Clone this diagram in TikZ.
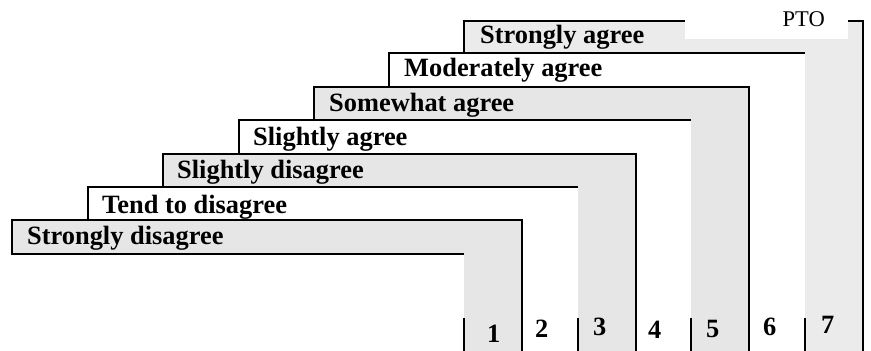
\documentclass[tikz,border=0pt]{standalone}
\usepackage{fontspec}
\setmainfont{Liberation Serif}
\definecolor{bandgrey}{HTML}{E6E6E6}
\definecolor{bandgreyb}{HTML}{EBEBEB}
\begin{document}
\begin{tikzpicture}[x=1pt,y=-1pt,
  edge/.style={line width=1.9pt, line join=miter, line cap=butt},
  lab/.style={font=\fontsize{26.4}{30}\selectfont\bfseries, anchor=base west, inner sep=0pt},
  num/.style={font=\fontsize{26.4}{30}\selectfont\bfseries, anchor=base west, inner sep=0pt},
  pto/.style={font=\fontsize{22.5}{26}\selectfont, anchor=base west, inner sep=0pt}]
\useasboundingbox (0,0) rectangle (871,351);
% grey L-shaped bands
\fill[bandgrey] (12,220) -- (522,220) -- (522,351) -- (464,351) -- (464,254) -- (12,254) -- cycle;
\fill[bandgrey] (163,154) -- (636,154) -- (636,351) -- (578,351) -- (578,187) -- (163,187) -- cycle;
\fill[bandgrey] (314,87) -- (749,87) -- (749,351) -- (691,351) -- (691,120) -- (314,120) -- cycle;
\fill[bandgreyb] (464,20.7) -- (863,20.7) -- (863,351) -- (805,351) -- (805,53) -- (464,53) -- cycle;
% outlines
\draw[edge] (464,254) -- (12,254) -- (12,220) -- (522,220) -- (522,351);
\draw[edge] (88,220) -- (88,187) -- (578,187);
\draw[edge] (163,187) -- (163,154) -- (636,154) -- (636,351);
\draw[edge] (239,154) -- (239,120) -- (691,120);
\draw[edge] (314,120) -- (314,87) -- (749,87) -- (749,351);
\draw[edge] (389,87) -- (389,53) -- (805,53);
\draw[edge] (464,53) -- (464,20.7) -- (863,20.7) -- (863,351);
% ticks
\foreach \tx in {464,578,691,805} \draw[edge] (\tx,318) -- (\tx,351);
% PTO box
\fill[white] (685,-2) rectangle (848,39);
\node[pto] (pto) at (782.5,26.7) {PTO};
% labels
\node[lab] (l1) at (27,244) {Strongly disagree};
\node[lab] (l2) at (102,213) {Tend to disagree};
\node[lab] (l3) at (177,178) {Slightly disagree};
\node[lab] (l4) at (253,145) {Slightly agree};
\node[lab] (l5) at (329,111) {Somewhat agree};
\node[lab] (l6) at (404,76) {Moderately agree};
\node[lab] (l7) at (480,43.3) {Strongly agree};
% numbers
\node[num] (n1) at (487,342) {1};
\node[num] (n2) at (535,337) {2};
\node[num] (n3) at (593,335) {3};
\node[num] (n4) at (648,338) {4};
\node[num] (n5) at (706,337) {5};
\node[num] (n6) at (763,335) {6};
\node[num] (n7) at (821,333) {7};
\end{tikzpicture}
\end{document}
